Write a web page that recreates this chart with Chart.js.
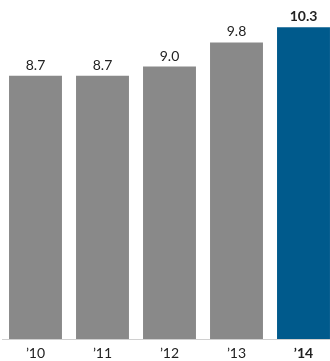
<!DOCTYPE html>
<html>
<head>
<meta charset="utf-8">
<script src="https://cdn.jsdelivr.net/npm/chart.js@4"></script>
<style>
  html, body { margin: 0; padding: 0; background: #fff; overflow: hidden; }
  #wrap { width: 340px; height: 361px; }
</style>
</head>
<body>
<div id="wrap"><canvas id="chart"></canvas></div>
<script>
const years = ['\u201910', '\u201911', '\u201912', '\u201913', '\u201914'];
const values = [8.7, 8.7, 9.0, 9.8, 10.3];
const barColors = ['#898989', '#898989', '#898989', '#898989', '#005a8c'];

// value labels above each bar, last one bold
const valueLabels = {
    id: 'valueLabels',
    afterDatasetsDraw(chart) {
        const ctx = chart.ctx;
        const meta = chart.getDatasetMeta(0);
        ctx.save();
        ctx.fillStyle = '#222';
        ctx.textAlign = 'center';
        ctx.textBaseline = 'alphabetic';
        meta.data.forEach((bar, i) => {
            const last = i === values.length - 1;
            ctx.font = (last ? 'bold ' : '') + '14px Lato';
            ctx.fillText(values[i].toFixed(1), bar.x, bar.y - 6);
        });
        ctx.restore();
    }
};

new Chart(document.getElementById('chart'), {
    type: 'bar',
    data: {
        labels: years,
        datasets: [{
            data: values,
            backgroundColor: barColors,
            categoryPercentage: 1,
            barPercentage: 0.79
        }]
    },
    options: {
        responsive: true,
        maintainAspectRatio: false,
        animation: false,
        layout: { padding: { left: 2, right: 3, top: 0, bottom: 0 } },
        plugins: { legend: { display: false }, tooltip: { enabled: false } },
        scales: {
            x: {
                grid: { display: false, drawTicks: false },
                border: { display: true, color: '#d0d0d0', width: 1 },
                ticks: {
                    color: '#222',
                    padding: 6,
                    font: ctx => ({ family: 'Lato', size: 14, weight: ctx.index === 4 ? 'bold' : 'normal' })
                },
                afterFit(scale) { scale.height = 22; }
            },
            y: {
                display: false,
                min: 0,
                max: 11.2
            }
        }
    },
    plugins: [valueLabels]
});
</script>
</body>
</html>
